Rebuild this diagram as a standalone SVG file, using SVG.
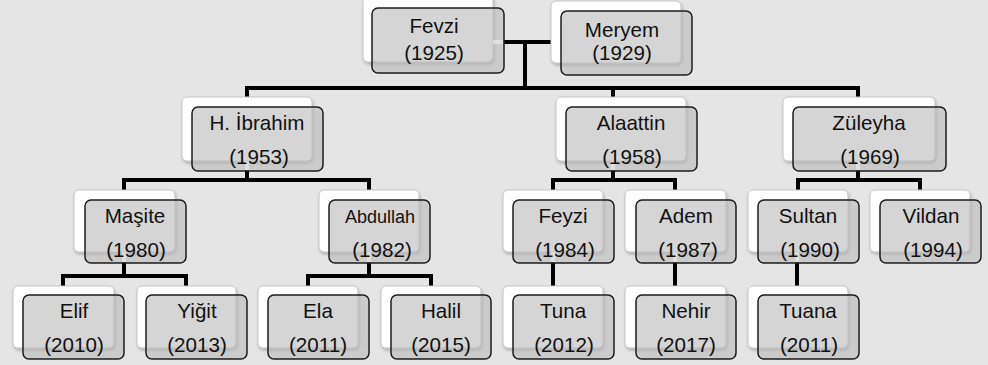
<svg xmlns="http://www.w3.org/2000/svg" width="988" height="365" viewBox="0 0 988 365">
<defs>
<filter id="sh" x="-10%" y="-10%" width="125%" height="130%">
<feDropShadow dx="1" dy="2" stdDeviation="1.5" flood-color="#000" flood-opacity="0.25"/>
</filter>
</defs>
<style>
.bk{fill:#ffffff;stroke:#c4c4c4;stroke-width:1;filter:url(#sh)}
.fr{fill:#bcbcbc;fill-opacity:0.62;stroke:#1c1c1c;stroke-width:1.5}
.t{font-family:"Liberation Sans",Arial,sans-serif;font-size:20.6px;fill:#111;text-anchor:middle}
.s{font-size:18px}
.c{fill:none;stroke:#000;stroke-width:4;stroke-linecap:square}
.l{fill:none;stroke:#f2f2f2;stroke-opacity:0.55;stroke-width:4}
</style>
<rect x="0" y="0" width="988" height="365" fill="#e5e5e5"/>
<g id="connectors">
<path class="c" d="M506,42 H549 M525,42 V88 M247,88 H858 M247,88 V96 M613,88 V96 M858,88 V96"/>
<path class="c" d="M247,172 V180 M124,180 H369 M124,180 V189 M369,180 V189"/>
<path class="c" d="M613,172 V180 M553,180 H675 M553,180 V189 M675,180 V189"/>
<path class="c" d="M858,172 V180 M798,180 H920 M798,180 V189 M920,180 V189"/>
<path class="c" d="M124,264 V276 M63,276 H186 M63,276 V285 M186,276 V285"/>
<path class="c" d="M369,264 V276 M308,276 H431 M308,276 V285 M431,276 V285"/>
<path class="c" d="M553,264 V285 M675,264 V285 M797,264 V285"/>
</g>
<g id="fevzi"><rect class="bk" x="363" y="-4" width="130" height="66" rx="5"/><rect class="fr" x="372" y="8" width="132" height="65" rx="6"/><path class="l" d="M493,42 H503"/><text class="t" x="434" y="33">Fevzi</text><text class="t" x="434" y="60">(1925)</text></g>
<g id="meryem"><rect class="bk" x="551" y="1" width="130" height="62" rx="5"/><rect class="fr" x="561" y="11" width="131" height="64" rx="6"/><text class="t" x="622" y="37">Meryem</text><text class="t" x="622" y="60">(1929)</text></g>
<g id="ibrahim"><rect class="bk" x="182" y="97" width="130" height="64" rx="5"/><rect class="fr" x="192" y="107" width="131" height="64" rx="6"/><path class="l" d="M247,161 V170"/><text class="t" x="257" y="130">H. İbrahim</text><text class="t" x="259" y="164">(1953)</text></g>
<g id="alaattin"><rect class="bk" x="556" y="97" width="130" height="64" rx="5"/><rect class="fr" x="566" y="107" width="131" height="64" rx="6"/><path class="l" d="M613,161 V170"/><text class="t" x="631" y="130">Alaattin</text><text class="t" x="632" y="164">(1958)</text></g>
<g id="zuleyha"><rect class="bk" x="783" y="97" width="152" height="64" rx="5"/><rect class="fr" x="793" y="107" width="153" height="64" rx="6"/><path class="l" d="M858,161 V170"/><text class="t" x="869" y="130">Züleyha</text><text class="t" x="870" y="164">(1969)</text></g>
<g id="masite"><rect class="bk" x="74" y="190" width="101" height="62" rx="5"/><rect class="fr" x="85" y="200" width="101" height="63" rx="6"/><path class="l" d="M124,252 V262"/><text class="t" x="135" y="223">Maşite</text><text class="t" x="136" y="257">(1980)</text></g>
<g id="abdullah"><rect class="bk" x="319" y="190" width="100" height="62" rx="5"/><rect class="fr" x="329" y="200" width="101" height="63" rx="6"/><path class="l" d="M369,252 V262"/><text class="t s" x="380" y="223">Abdullah</text><text class="t" x="382" y="257">(1982)</text></g>
<g id="feyzi"><rect class="bk" x="503" y="190" width="100" height="62" rx="5"/><rect class="fr" x="513" y="200" width="101" height="63" rx="6"/><path class="l" d="M553,252 V262"/><text class="t" x="563" y="223">Feyzi</text><text class="t" x="565" y="257">(1984)</text></g>
<g id="adem"><rect class="bk" x="625" y="190" width="101" height="62" rx="5"/><rect class="fr" x="636" y="200" width="100" height="63" rx="6"/><path class="l" d="M675,252 V262"/><text class="t" x="686" y="223">Adem</text><text class="t" x="688" y="257">(1987)</text></g>
<g id="sultan"><rect class="bk" x="748" y="190" width="100" height="62" rx="5"/><rect class="fr" x="758" y="200" width="101" height="63" rx="6"/><path class="l" d="M797,252 V262"/><text class="t" x="808" y="223">Sultan</text><text class="t" x="810" y="257">(1990)</text></g>
<g id="vildan"><rect class="bk" x="870" y="190" width="100" height="62" rx="5"/><rect class="fr" x="880" y="200" width="101" height="63" rx="6"/><text class="t" x="931" y="223">Vildan</text><text class="t" x="933" y="257">(1994)</text></g>
<g id="elif"><rect class="bk" x="13" y="286" width="101" height="62" rx="5"/><rect class="fr" x="23" y="295" width="101" height="64" rx="6"/><text class="t" x="74" y="318">Elif</text><text class="t" x="74" y="352">(2010)</text></g>
<g id="yigit"><rect class="bk" x="137" y="286" width="99" height="62" rx="5"/><rect class="fr" x="146" y="295" width="101" height="64" rx="6"/><text class="t" x="197" y="318">Yiğit</text><text class="t" x="197" y="352">(2013)</text></g>
<g id="ela"><rect class="bk" x="258" y="286" width="100" height="62" rx="5"/><rect class="fr" x="268" y="295" width="101" height="64" rx="6"/><text class="t" x="318" y="318">Ela</text><text class="t" x="318" y="352">(2011)</text></g>
<g id="halil"><rect class="bk" x="381" y="286" width="100" height="62" rx="5"/><rect class="fr" x="391" y="295" width="100" height="64" rx="6"/><text class="t" x="441" y="318">Halil</text><text class="t" x="441" y="352">(2015)</text></g>
<g id="tuna"><rect class="bk" x="503" y="286" width="100" height="62" rx="5"/><rect class="fr" x="513" y="295" width="101" height="64" rx="6"/><text class="t" x="563" y="318">Tuna</text><text class="t" x="564" y="352">(2012)</text></g>
<g id="nehir"><rect class="bk" x="625" y="286" width="101" height="62" rx="5"/><rect class="fr" x="636" y="295" width="100" height="64" rx="6"/><text class="t" x="686" y="318">Nehir</text><text class="t" x="686" y="352">(2017)</text></g>
<g id="tuana"><rect class="bk" x="748" y="286" width="100" height="62" rx="5"/><rect class="fr" x="758" y="295" width="101" height="64" rx="6"/><text class="t" x="808" y="318">Tuana</text><text class="t" x="809" y="352">(2011)</text></g>
</svg>
